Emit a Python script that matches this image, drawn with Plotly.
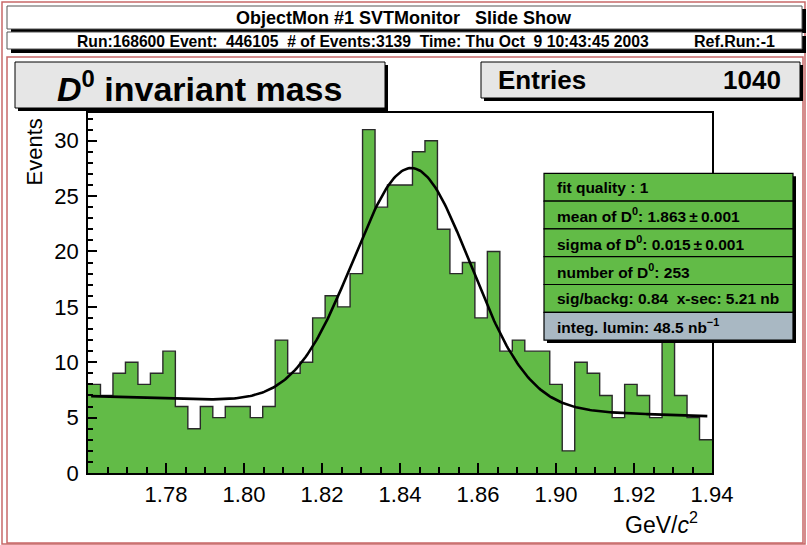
import numpy as np
import plotly.graph_objects as go

# ---- histogram data: D0 candidate invariant mass, 50 bins ----
x_lo, x_hi = 1.78, 1.94
n_bins = 50
counts = [8, 7, 9, 10, 8, 9, 11, 6, 4, 6, 5, 6, 6, 5, 6, 12, 9, 10,
          14, 16, 15, 18, 31, 24, 26, 26, 29, 30, 22, 18, 19, 14, 20, 11, 12, 11, 11,
          8, 2, 10, 9, 7, 5, 8, 7, 5, 13, 7, 5, 3]
entries = 1040

# axis ticks as labelled on the monitor display
x_tickvals = [1.80, 1.82, 1.84, 1.86, 1.88, 1.90, 1.92, 1.94]
x_ticktext = ["1.78", "1.80", "1.82", "1.84", "1.86", "1.90", "1.92", "1.94"]
y_tickvals = [0, 5, 10, 15, 20, 25, 30]
y_ticktext = ["0", "5", "10", "15", "20", "25", "30"]

# ---- fit result: gaussian signal + linear background ----
fit_mean = 1.863
fit_sigma = 0.015
fit_nsig = 253
bkg_at_lo = 6.95      # background level at 1.78
bkg_slope = -11.44    # events per GeV per bin
fit_range = (1.7808, 1.9388)

stats_lines = [
    "fit quality : 1",
    "mean of D<sup>0</sup>: 1.863\u2009\u00b1\u20090.001",
    "sigma of D<sup>0</sup>: 0.015\u2009\u00b1\u20090.001",
    "number of D<sup>0</sup>: 253",
    "sig/backg: 0.84\u00a0\u00a0x-sec: 5.21 nb",
    "integ. lumin: 48.5 nb<sup>\u22121</sup>",
]

W, H = 807, 545
L, R, T, B = 88, 95, 113, 72
PW, PH = W - L - R, H - T - B

GREEN = "#62bb47"
GREY_BLUE = "#a9b8c3"
PAD_GREY = "#e6e6e6"
FRAME_RED = "#c86868"
FONT = "Liberation Sans, Arial, sans-serif"
NARROW = "Liberation Sans Narrow, Arial Narrow, sans-serif"


def px(xp):
    return (xp - L) / PW


def py(yp):
    return (H - B - yp) / PH


def rect(x0, y0, x1, y1, fill=None, line=None, lw=1, layer="above"):
    return dict(type="rect", xref="paper", yref="paper",
                x0=px(x0), x1=px(x1), y0=py(y1), y1=py(y0),
                fillcolor=fill if fill else "rgba(0,0,0,0)",
                line=dict(color=line if line else "rgba(0,0,0,0)", width=lw if line else 0),
                layer=layer)


def label(xp, yp, text, size, xanchor="center", family=FONT, yanchor="middle"):
    return dict(xref="paper", yref="paper", x=px(xp), y=py(yp), text=text,
                showarrow=False, xanchor=xanchor, yanchor=yanchor,
                font=dict(family=family, size=size, color="black"))


bw = (x_hi - x_lo) / n_bins
edges = [x_lo + i * bw for i in range(n_bins + 1)]
step_y = counts + [counts[-1]]

xf = np.linspace(fit_range[0], fit_range[1], 400)
amp = fit_nsig * bw / (np.sqrt(2 * np.pi) * fit_sigma)
yf = amp * np.exp(-0.5 * ((xf - fit_mean) / fit_sigma) ** 2) + bkg_at_lo + bkg_slope * (xf - x_lo)

fig = go.Figure()
fig.add_trace(go.Scatter(x=edges, y=step_y, mode="lines", line_shape="hv",
                         fill="tozeroy", fillcolor=GREEN,
                         line=dict(color="#2a2a2a", width=1.4), hoverinfo="skip"))
fig.add_trace(go.Scatter(x=xf, y=yf, mode="lines",
                         line=dict(color="black", width=2.6), hoverinfo="skip"))

shapes = []
# outer canvas frame and header boxes
shapes.append(rect(2, 2, 805, 544, line=FRAME_RED, lw=1.5))
shapes.append(rect(11, 9, 806, 33, fill="black"))
shapes.append(rect(7, 6, 802, 29, fill="white", line="#555555", lw=1))
shapes.append(rect(11, 36, 806, 53, fill="black"))
shapes.append(rect(7, 32, 802, 49, fill="white", line="#555555", lw=1))
# main pad frame
shapes.append(rect(7, 57, 803, 543, line=FRAME_RED, lw=1.5))
# title pave
shapes.append(rect(18, 65, 388, 111, fill="black"))
shapes.append(rect(15, 62, 385, 108, fill=PAD_GREY, line="black", lw=1))
# entries pave
shapes.append(rect(484, 65, 803, 101, fill="black"))
shapes.append(rect(481, 62, 800, 98, fill=PAD_GREY, line="black", lw=1))
# fit stats pave
sx0, sx1, sy0, row_h = 544, 793, 173.3, 27.8
shapes.append(rect(sx0 + 3, sy0 + 3, sx1 + 3, sy0 + 6 * row_h + 3, fill="black"))
for i in range(6):
    shapes.append(rect(sx0, sy0 + i * row_h, sx1, sy0 + (i + 1) * row_h,
                       fill=GREEN if i < 5 else GREY_BLUE, line="black", lw=1.2))

annotations = [
    label(404, 17.5, "<b>ObjectMon #1 SVTMonitor\u00a0\u00a0\u00a0Slide Show</b>", 18, family=NARROW),
    label(75, 41, "<b>Run:168600 Event:\u00a0\u00a0446105\u00a0\u00a0# of Events:3139\u00a0\u00a0Time: Thu Oct\u00a0\u00a09 10:43:45 2003</b>",
          15.7, xanchor="left", family=NARROW),
    label(777, 41, "<b>Ref.Run:-1</b>", 16, xanchor="right", family=NARROW),
    label(199, 86, "<b><i>D</i><sup>0</sup> invariant mass</b>", 34),
    label(496, 80, "<b>Entries</b>", 26, xanchor="left"),
    label(783, 80, "<b>%d</b>" % entries, 26, xanchor="right"),
    label(700, 523, "GeV/<i>c</i><sup>2</sup>", 23, xanchor="right"),
    dict(xref="paper", yref="paper", x=px(34), y=py(117), text="Events", textangle=-90,
         showarrow=False, xanchor="center", yanchor="top",
         font=dict(family=FONT, size=22, color="black")),
]
for i, t in enumerate(stats_lines):
    annotations.append(label(555, sy0 + (i + 0.5) * row_h, "<b>%s</b>" % t, 15.5, xanchor="left"))

fig.update_layout(
    width=W, height=H,
    margin=dict(l=L, r=R, t=T, b=B, pad=0),
    paper_bgcolor="white", plot_bgcolor="white",
    showlegend=False,
    shapes=shapes, annotations=annotations,
    font=dict(family=FONT, size=22, color="black"),
)
fig.update_xaxes(range=[x_lo, x_hi], tickvals=x_tickvals, ticktext=x_ticktext,
                 ticks="inside", ticklen=10, tickwidth=1.5, tickcolor="black",
                 minor=dict(dtick=0.005, tick0=1.78, ticks="inside", ticklen=6,
                            tickwidth=1.5, tickcolor="black", showgrid=False),
                 showline=True, linecolor="black", linewidth=1.5, mirror=True,
                 showgrid=False, zeroline=False,
                 tickfont=dict(family=FONT, size=22), ticklabelstandoff=1)
fig.update_yaxes(range=[0, 32.5], tickvals=y_tickvals, ticktext=y_ticktext,
                 ticks="inside", ticklen=9, tickwidth=1.5, tickcolor="black",
                 minor=dict(dtick=1, tick0=0, ticks="inside", ticklen=5,
                            tickwidth=1.5, tickcolor="black", showgrid=False),
                 showline=True, linecolor="black", linewidth=1.5, mirror=True,
                 showgrid=False, zeroline=False,
                 tickfont=dict(family=FONT, size=22), ticklabelstandoff=3)

fig.write_html("out.html")
